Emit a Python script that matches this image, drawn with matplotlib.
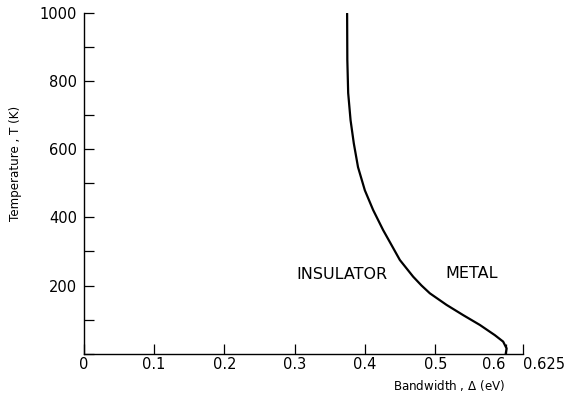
import numpy as np
import matplotlib.pyplot as plt
from matplotlib.ticker import MultipleLocator

# Phasengrenze Isolator/Metall: Bandbreite (eV) gegen Temperatur (K)
bandbreite = [0.600, 0.6003, 0.6013, 0.5964, 0.5846, 0.5633, 0.5395, 0.5159,
              0.4922, 0.4803, 0.4684, 0.4495, 0.4360, 0.4257, 0.4115, 0.3997,
              0.390, 0.384, 0.3794, 0.376, 0.3748, 0.3745]
temperatur = [0, 2, 15, 35, 54, 84, 113, 143,
              177, 200, 226, 275, 325, 363, 422, 480,
              548, 618, 686, 766, 863, 1000]

x_ticks = [0, 0.1, 0.2, 0.3, 0.4, 0.5, 0.6, 0.625]
x_labels = ['0', '0.1', '0.2', '0.3', '0.4', '0.5', '0.6', '0.625']
y_ticks = [200, 400, 600, 800, 1000]

plt.rcParams['font.family'] = 'DejaVu Sans'

fig = plt.figure(figsize=(5.7, 3.95), dpi=100)
ax = fig.add_axes([0.147, 0.105, 0.771, 0.861])

ax.plot(bandbreite, temperatur, color='black', lw=1.6,
        solid_capstyle='round', solid_joinstyle='round')

ax.set_xlim(0, 0.625)
ax.set_ylim(0, 1000)

ax.spines['top'].set_visible(False)
ax.spines['right'].set_visible(False)
for s in ('left', 'bottom'):
    ax.spines[s].set_linewidth(1.0)

ax.set_xticks(x_ticks)
ax.set_xticklabels(x_labels)
ax.set_yticks(y_ticks)
ax.yaxis.set_minor_locator(MultipleLocator(100))
ax.tick_params(axis='both', which='major', direction='in', length=7.5,
               width=0.9, labelsize=10.5, pad=5)
ax.tick_params(axis='y', which='minor', direction='in', length=7, width=0.9)
ax.tick_params(axis='x', which='major', pad=2.5)

# 0.6 und 0.625 liegen dicht beieinander: Beschriftungen auseinanderziehen
xl = ax.get_xticklabels()
xl[6].set_horizontalalignment('right')
xl[7].set_horizontalalignment('left')

ax.set_ylabel('Temperature , T (K)', fontsize=8.6)
ax.yaxis.set_label_coords(-0.141, 0.56)
ax.set_xlabel('Bandwidth , $\\Delta$ (eV)', fontsize=8.6, labelpad=0)
ax.xaxis.set_label_coords(0.831, -0.072)

ax.text(0.367, 232, 'INSULATOR', ha='center', va='center', fontsize=11.5)
ax.text(0.551, 235, 'METAL', ha='center', va='center', fontsize=11.5)

fig.savefig('out.png', dpi=100)
